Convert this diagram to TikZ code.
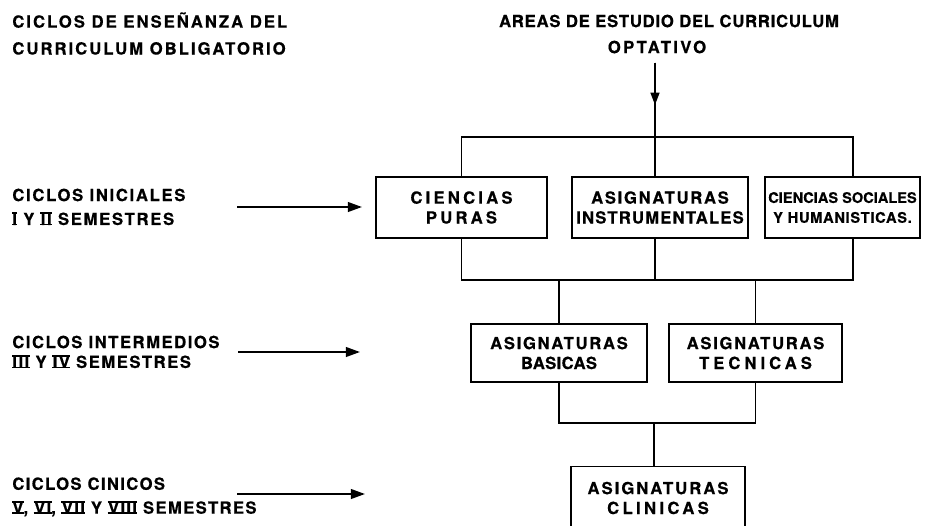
\documentclass[tikz,border=0pt]{standalone}
\usepackage{fontspec}
\newfontfamily\lettering{TeX Gyre Heros}[BoldFeatures={FakeBold=0.5}]
\usetikzlibrary{arrows.meta}

% numeral romano con barras arriba y abajo
\newcommand{\romano}[1]{\setbox0\hbox{#1}\rlap{\kern-0.2pt\rule[-0.2pt]{\dimexpr\wd0+0.4pt\relax}{1pt}}\rlap{\kern-0.2pt\rule[\dimexpr\ht0-0.8pt\relax]{\dimexpr\wd0+0.4pt\relax}{1pt}}\box0\relax}

\tikzset{
  wire/.style={line width=1.1pt},
  flecha/.style={wire,-{Triangle[length=8pt,width=5.5pt]}},
  letras/.style={font=\lettering\bfseries\fontsize{9.5}{13.6}\selectfont\addfontfeature{LetterSpace=#1}},
  letras/.default=10,
  caja/.style={draw,line width=1.1pt,inner sep=0pt,align=center},
  rotulo/.style={anchor=west,align=left,inner sep=0pt},
}

\begin{document}
\begin{tikzpicture}[x=0.02cm,y=-0.02cm]
        \useasboundingbox (0,0) rectangle (947,525);

        % Titles
        \node[rotulo,letras=12] (oblig) at (12,33.5) {CICLOS DE ENSEÑANZA DEL\\[1.7pt]CURRICULUM OBLIGATORIO};
        \node[inner sep=0pt,letras=4.5] (areas) at (669,21) {AREAS DE ESTUDIO DEL CURRICULUM};
        \node[inner sep=0pt,letras=14] (optativo) at (657,47) {OPTATIVO};

        % Cycles on the left
        \node[rotulo,letras=10] (inic) at (12,207) {CICLOS INICIALES\\\romano{I} Y \romano{II} SEMESTRES};
        \node[rotulo,letras=9] (inter) at (12,352) {CICLOS INTERMEDIOS\\[-2.3pt]\romano{III} Y \romano{IV} SEMESTRES};
        \node[rotulo,letras=8] (cinic) at (12,497) {CICLOS CINICOS\\\romano{V}, \romano{VI}, \romano{VII} Y \romano{VIII} SEMESTRES};

        \coordinate (f1a) at (237,207);
        \coordinate (f1b) at (362,207);
        \coordinate (f2a) at (238,352);
        \coordinate (f2b) at (360,352);
        \coordinate (f3a) at (237,494);
        \coordinate (f3b) at (365,494);
        \draw[flecha] (f1a) -- (f1b);
        \draw[flecha] (f2a) -- (f2b);
        \draw[flecha] (f3a) -- (f3b);

        % First row of areas
        \node[caja,letras=19,minimum width=3.42cm,minimum height=1.22cm] (puras) at (461.5,207.5) {CIENCIAS\\[-2.3pt]PURAS};
        \node[caja,letras=10,minimum width=3.52cm,minimum height=1.22cm] (instr) at (660,207.5) {ASIGNATURAS\\[-2.3pt]{\addfontfeature{LetterSpace=7}INSTRUMENTALES}};
        \node[caja,minimum width=3.1cm,minimum height=1.22cm,font=\lettering\bfseries\fontsize{8.3}{11.3}\selectfont] (sociales) at (842.5,207.5) {CIENCIAS SOCIALES\\{\addfontfeature{LetterSpace=5}Y HUMANISTICAS.}};

        % Second row
        \node[caja,letras=10,minimum width=3.52cm,minimum height=1.16cm] (basicas) at (559,353) {ASIGNATURAS\\[-2.3pt]{\addfontfeature{LetterSpace=2}BASICAS}};
        \node[caja,letras=10,minimum width=3.46cm,minimum height=1.16cm] (tecnicas) at (755.5,353) {ASIGNATURAS\\[-2.3pt]{\addfontfeature{LetterSpace=24}TECNICAS}};

        % Third row
        \node[caja,letras=12,minimum width=3.48cm,minimum height=1.26cm] (clinicas) at (658,498) {ASIGNATURAS\\[-2.3pt]{\addfontfeature{LetterSpace=20}CLINICAS}};

        % Connectors
        \coordinate (bus1) at (655,137);
        \coordinate (bus2) at (655,280);
        \coordinate (bus3) at (654,423);
        \coordinate (punta) at (655,105);
        \draw[wire] (optativo.south -| bus1) ++(0,9) -- (bus1);
        \draw[wire,-{Triangle[length=7pt,width=5pt]}] (optativo.south -| bus1) ++(0,9) -- (punta);
        \draw[wire] (puras.north) |- (bus1) -| ([xshift=0.21cm]sociales.north);
        \draw[wire] (instr.north -| bus1) -- (bus1);
        \draw[wire] (puras.south) |- (bus2) -| ([xshift=0.21cm]sociales.south);
        \draw[wire] (instr.south -| bus2) -- (bus2);
        \draw[wire] (basicas.north) |- (bus2) -| (tecnicas.north);
        \draw[wire] (basicas.south) |- (bus3) -| (tecnicas.south);
        \draw[wire] (bus3) -- (clinicas.north -| bus3);
\end{tikzpicture}
\end{document}
